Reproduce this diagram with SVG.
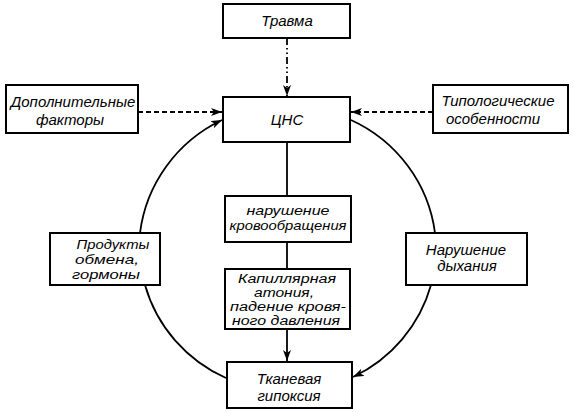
<svg xmlns="http://www.w3.org/2000/svg" width="574" height="412" viewBox="0 0 574 412">
<style>
.box{fill:#fff;stroke:#000;stroke-width:2}
.t{font-family:"Liberation Sans",Arial,sans-serif;font-style:italic;font-size:15px;text-anchor:middle;fill:#000}
.s{font-size:13.5px}
.xs{font-size:12.5px}
.c{fill:none;stroke:#000;stroke-width:1.8}
.dash{stroke-dasharray:5,3}
.dd{stroke-dasharray:7,3,1.5,3,1.5,3}
</style>
<defs>
<marker id="ar" markerUnits="userSpaceOnUse" markerWidth="12" markerHeight="10" refX="11" refY="4" orient="auto">
<path d="M0,0 L11,4 L0,8 L3,4 z" fill="#000"/>
</marker>
</defs>
<rect width="574" height="412" fill="#fff"/>
<g id="connectors">
<line class="c dd" x1="287" y1="38" x2="287" y2="96" marker-end="url(#ar)"/>
<line class="c dash" x1="138" y1="112" x2="222" y2="112" marker-end="url(#ar)"/>
<line class="c dash" x1="433" y1="112" x2="351" y2="112" marker-end="url(#ar)"/>
<line class="c" x1="287" y1="142" x2="287" y2="196"/>
<line class="c" x1="287" y1="242" x2="287" y2="269"/>
<line class="c" x1="287" y1="329" x2="287" y2="361" marker-end="url(#ar)"/>
<path class="c" d="M140,233 A147,145 0 0 1 222,120" marker-end="url(#ar)"/>
<path class="c" d="M145,285 A147,145 0 0 0 226,378"/>
<path class="c" d="M351,120 A147,145 0 0 1 435,233"/>
<path class="c" d="M431,285 A147,145 0 0 1 353,377" marker-end="url(#ar)"/>
</g>
<g id="travma">
<rect class="box" x="223" y="4" width="127" height="34"/>
<text class="t" x="287" y="26">Травма</text>
</g>
<g id="cns">
<rect class="box" x="223" y="97" width="127" height="45"/>
<text class="t" x="287" y="125">ЦНС</text>
</g>
<g id="dop">
<rect class="box" x="6" y="85" width="132" height="48"/>
<text class="t" x="73" y="107">Дополнительные</text>
<text class="t" x="70" y="125">факторы</text>
</g>
<g id="tipol">
<rect class="box" x="433" y="85" width="135" height="48"/>
<text class="t" x="498" y="106">Типологические</text>
<text class="t" x="493" y="124">особенности</text>
</g>
<g id="krovo">
<rect class="box" x="225" y="196" width="126" height="46"/>
<text class="t s" x="288" y="215" textLength="83" lengthAdjust="spacingAndGlyphs">нарушение</text>
<text class="t s" x="288" y="230" textLength="117" lengthAdjust="spacingAndGlyphs">кровообращения</text>
</g>
<g id="kapil">
<rect class="box" x="225" y="269" width="125" height="60"/>
<text class="t xs" x="287" y="283" textLength="98" lengthAdjust="spacingAndGlyphs">Капиллярная</text>
<text class="t xs" x="284" y="297" textLength="60" lengthAdjust="spacingAndGlyphs">атония,</text>
<text class="t xs" x="288" y="311" textLength="116" lengthAdjust="spacingAndGlyphs">падение кровя-</text>
<text class="t xs" x="286" y="325" textLength="108" lengthAdjust="spacingAndGlyphs">ного давления</text>
</g>
<g id="tkan">
<rect class="box" x="227" y="362" width="125" height="46"/>
<text class="t" x="289" y="384">Тканевая</text>
<text class="t" x="289" y="401">гипоксия</text>
</g>
<g id="prod">
<rect class="box" x="50" y="233" width="110" height="52"/>
<text class="t s" x="113" y="249" textLength="73" lengthAdjust="spacingAndGlyphs">Продукты</text>
<text class="t s" x="107" y="264" textLength="64" lengthAdjust="spacingAndGlyphs">обмена,</text>
<text class="t s" x="106" y="279" textLength="68" lengthAdjust="spacingAndGlyphs">гормоны</text>
</g>
<g id="dyh">
<rect class="box" x="406" y="233" width="121" height="52"/>
<text class="t" x="466" y="255">Нарушение</text>
<text class="t" x="467" y="271">дыхания</text>
</g>
</svg>
